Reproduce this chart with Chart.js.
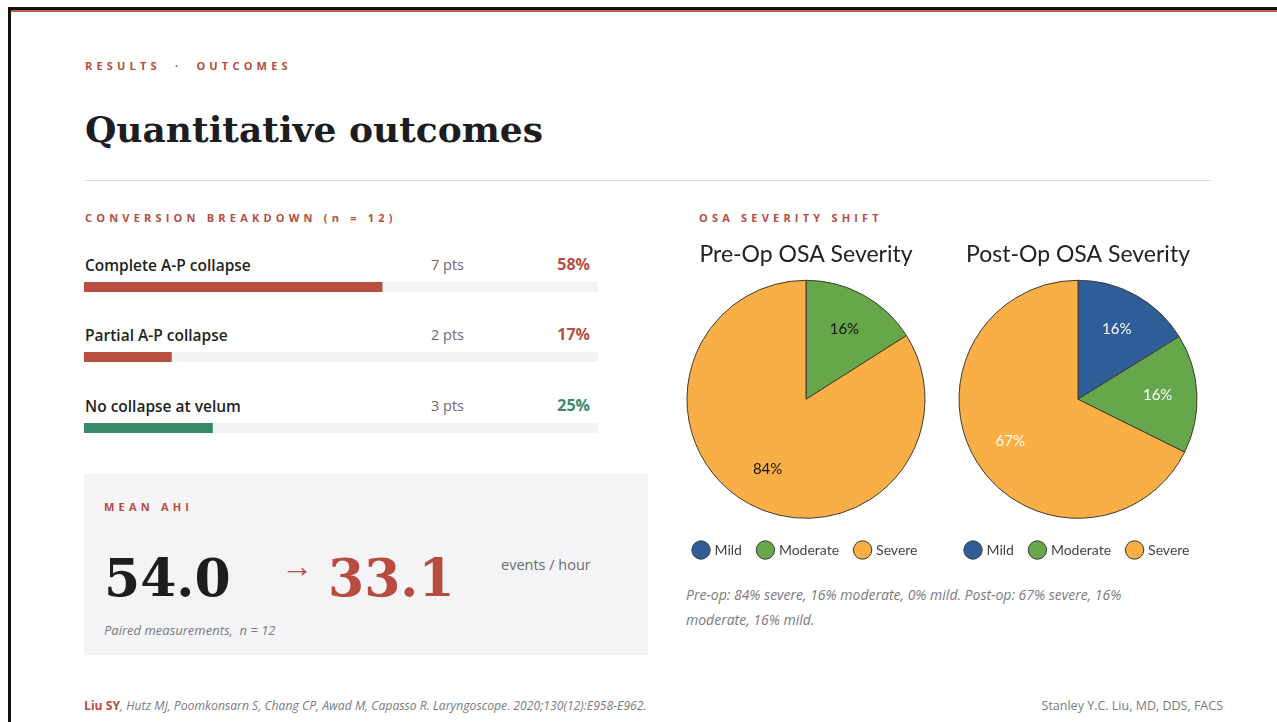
<!DOCTYPE html>
<html>
<head>
<meta charset="utf-8">
<script src="https://cdn.jsdelivr.net/npm/chart.js@4"></script>
<style>
  html, body { margin: 0; padding: 0; background: #fff; }
  body { width: 1277px; height: 722px; position: relative; overflow: hidden; font-family: "Open Sans", sans-serif; }
  .abs { position: absolute; white-space: nowrap; }
  .frame-top { position: absolute; left: 8px; top: 7px; right: 0; height: 3px; background: #111; }
  .frame-red { position: absolute; left: 11px; top: 10px; right: 0; height: 2px; background: #c0604f; }
  .frame-left { position: absolute; left: 8px; top: 7px; width: 3px; bottom: 0; background: #111; }
  .eyebrow { color: #b84c3f; font-weight: 700; font-size: 11px; letter-spacing: 4.2px; line-height: 14px; }
  .title { font-family: "DejaVu Serif", serif; font-weight: 700; font-size: 36px; color: #1d1d1f; line-height: 40px; }
  .rule { position: absolute; left: 85px; width: 1126px; top: 180px; height: 1px; background: #dcdcdf; }
  .rowlab { font-weight: 600; font-size: 15.5px; color: #1f1f22; line-height: 20px; }
  .pts { font-size: 14.5px; color: #6b6b70; line-height: 20px; }
  .pct { font-weight: 700; font-size: 16px; line-height: 20px; text-align: right; width: 80px; }
  .track { position: absolute; left: 84px; width: 514px; height: 10px; background: #f3f3f5; }
  .ahi { position: absolute; left: 84px; top: 474px; width: 564px; height: 181px; background: #f4f4f6; }
  .big { font-family: "DejaVu Serif", serif; font-weight: 700; font-size: 52px; line-height: 60px; }
  .note { font-style: italic; color: #7a7a80; font-size: 13px; line-height: 18px; }
  .caption { position: absolute; left: 686px; top: 582px; width: 470px; font-style: italic; color: #7a7a80; font-size: 14px; line-height: 25px; }
</style>
</head>
<body>
<div class="frame-top"></div>
<div class="frame-red"></div>
<div class="frame-left"></div>

<div class="abs eyebrow" style="left:85px; top:59px;">RESULTS &nbsp;·&nbsp; OUTCOMES</div>
<div class="abs title" style="left:85px; top:109px;">Quantitative outcomes</div>
<div class="rule"></div>

<div class="abs eyebrow" style="left:85px; top:211px;">CONVERSION BREAKDOWN (n = 12)</div>
<div id="rows"></div>

<div class="ahi"></div>
<div class="abs eyebrow" style="left:104px; top:500px;">MEAN AHI</div>
<div class="abs big" id="ahiPre" style="left:104px; top:548px; color:#1d1d1f;"></div>
<div class="abs" style="left:281px; top:548px; color:#b84c3f; font-size:32px; line-height:34px;">&rarr;</div>
<div class="abs big" id="ahiPost" style="left:328px; top:548px; color:#b84c3f;"></div>
<div class="abs" style="left:501px; top:555px; color:#6b6b70; font-size:14.5px; line-height:20px;">events / hour</div>
<div class="abs note" style="left:104px; top:621px;">Paired measurements,&nbsp; n = 12</div>

<div class="abs eyebrow" style="left:699px; top:211px;">OSA SEVERITY SHIFT</div>
<canvas id="preChart" width="260" height="335" style="position:absolute; left:676px; top:232px;"></canvas>
<canvas id="postChart" width="260" height="335" style="position:absolute; left:948px; top:232px;"></canvas>
<div class="caption" id="caption"></div>

<div class="abs" style="left:84px; top:697px; font-size:12.2px; line-height:17px; color:#7a7a80;"><span style="color:#b84c3f; font-weight:700;">Liu SY</span><i>, Hutz MJ, Poomkonsarn S, Chang CP, Awad M, Capasso R. Laryngoscope. 2020;130(12):E958-E962.</i></div>
<div class="abs" style="right:54px; top:697px; font-size:12.5px; line-height:18px; color:#7a7a80;">Stanley Y.C. Liu, MD, DDS, FACS</div>

<script>
// conversion breakdown (n = 12)
const rowLabels = ["Complete A-P collapse", "Partial A-P collapse", "No collapse at velum"];
const rowPts = [7, 2, 3];
const rowPct = [58, 17, 25];
const rowTone = ["red", "red", "green"];

// mean AHI, events / hour
const ahiPre = "54.0";
const ahiPost = "33.1";

// OSA severity, percent of patients
const severityLabels = ["Mild", "Moderate", "Severe"];
const preOp = [0, 16, 84];
const postOp = [16, 16, 67];

const RED = "#b94f41", GREEN = "#3a8a69";
const SLICE = ["#2f5d98", "#67a74c", "#f9af45"];
const ROW_Y = [255, 325, 396];

document.getElementById("ahiPre").textContent = ahiPre;
document.getElementById("ahiPost").textContent = ahiPost;
document.getElementById("caption").textContent =
  `Pre-op: ${preOp[2]}% severe, ${preOp[1]}% moderate, ${preOp[0]}% mild. Post-op: ${postOp[2]}% severe, ${postOp[1]}% moderate, ${postOp[0]}% mild.`;

const rowsEl = document.getElementById("rows");
rowLabels.forEach((lab, i) => {
  const y = ROW_Y[i];
  const col = rowTone[i] === "green" ? GREEN : RED;
  rowsEl.insertAdjacentHTML("beforeend",
    `<div class="abs rowlab" style="left:85px; top:${y}px;">${lab}</div>
     <div class="abs pts" style="left:431px; top:${y}px;">${rowPts[i]} pts</div>
     <div class="abs pct" style="left:510px; top:${y - 1}px; color:${col};">${rowPct[i]}%</div>
     <div class="track" style="top:${y + 27}px;"><canvas id="bar${i}" width="514" height="10"></canvas></div>`);
});

rowLabels.forEach((lab, i) => {
  new Chart(document.getElementById("bar" + i), {
    type: "bar",
    data: { labels: [lab], datasets: [{ data: [rowPct[i]], backgroundColor: rowTone[i] === "green" ? GREEN : RED,
      barPercentage: 1, categoryPercentage: 1 }] },
    options: {
      indexAxis: "y", responsive: false, animation: false,
      layout: { padding: 0 },
      scales: { x: { display: false, min: 0, max: 100 }, y: { display: false } },
      plugins: { legend: { display: false }, tooltip: { enabled: false } }
    }
  });
});

/* percent text inside each slice, at ~2/3 of the radius */
const sliceLabels = {
  id: "sliceLabels",
  afterDatasetsDraw(chart, args, opts) {
    const { ctx } = chart;
    const vals = chart.data.datasets[0].data;
    ctx.save();
    ctx.font = "15px Lato, sans-serif";
    ctx.fillStyle = opts.color || "#111";
    ctx.textAlign = "center";
    ctx.textBaseline = "middle";
    chart.getDatasetMeta(0).data.forEach((arc, i) => {
      if (!vals[i]) return;
      const p = arc.getProps(["x", "y", "startAngle", "endAngle", "outerRadius"], true);
      const mid = (p.startAngle + p.endAngle) / 2, r = p.outerRadius * 0.67;
      ctx.fillText(vals[i] + "%", p.x + Math.cos(mid) * r, p.y + Math.sin(mid) * r);
    });
    ctx.restore();
  }
};

function pie(id, title, values, labelColor) {
  new Chart(document.getElementById(id), {
    type: "pie",
    data: { labels: severityLabels, datasets: [{ data: values, backgroundColor: SLICE, borderColor: "#3e3a30", borderWidth: 1 }] },
    options: {
      responsive: false, animation: false, radius: 119,
      plugins: {
        title: { display: true, text: title, color: "#222", font: { family: "Lato", size: 23, weight: "normal" }, padding: { top: 9, bottom: 4 } },
        legend: { position: "bottom", labels: { usePointStyle: true, pointStyle: "circle", boxWidth: 13, boxHeight: 13,
          color: "#444", font: { family: "Lato", size: 14 }, padding: 17 } },
        tooltip: { enabled: false },
        sliceLabels: { color: labelColor }
      }
    },
    plugins: [sliceLabels]
  });
}
pie("preChart", "Pre-Op OSA Severity", preOp, "#111");
pie("postChart", "Post-Op OSA Severity", postOp, "#fff");
</script>
</body>
</html>
